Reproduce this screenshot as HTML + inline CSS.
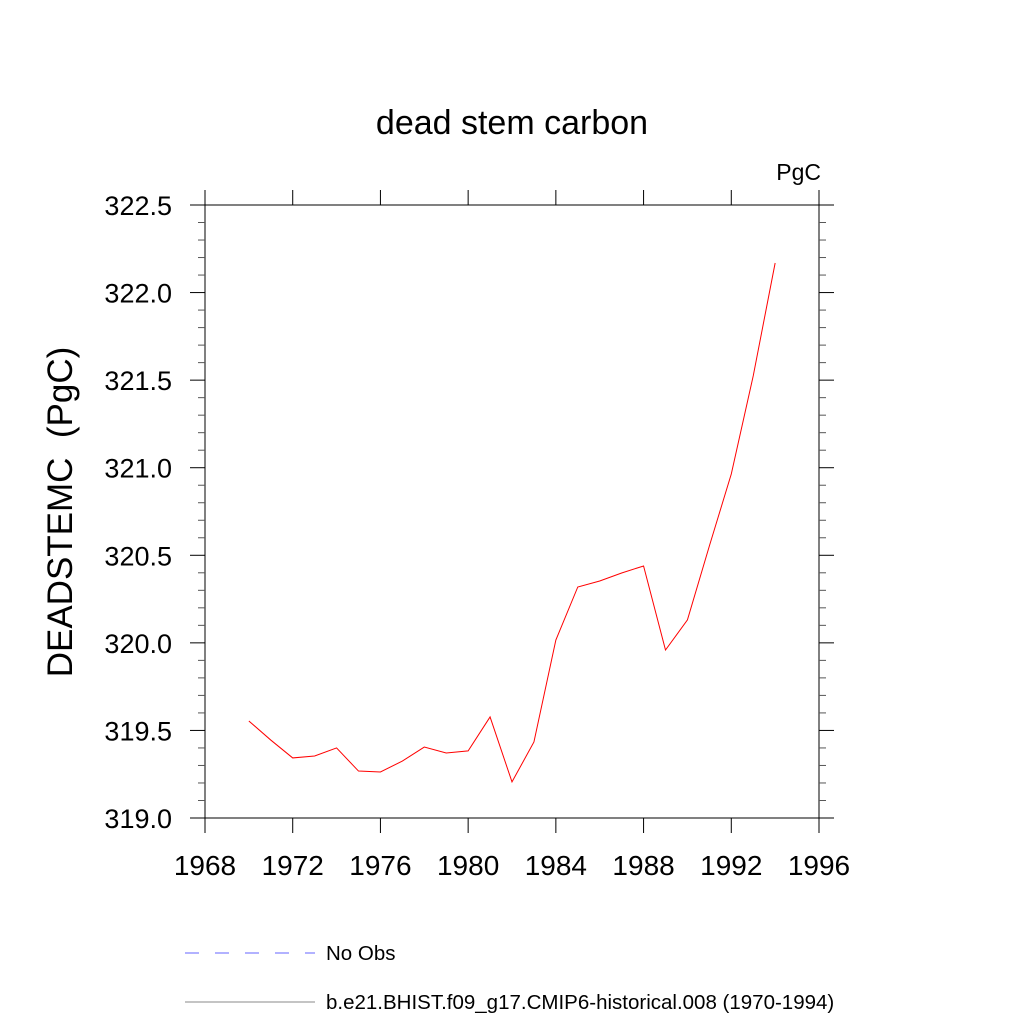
<!DOCTYPE html>
<html><head><meta charset="utf-8"><style>
body{margin:0;background:#fff}
svg text{font-family:"Liberation Sans",sans-serif}
</style></head><body>
<svg id="chart" width="1024" height="1024" xmlns="http://www.w3.org/2000/svg">
<text x="512" y="134" font-size="34" text-anchor="middle">dead stem carbon</text>
<text x="821" y="180" font-size="23" text-anchor="end">PgC</text>
<text transform="translate(72,512) rotate(-90)" font-size="35" text-anchor="middle" xml:space="preserve" style="white-space:pre">DEADSTEMC  (PgC)</text>
<g id="axes"></g>
<g id="series"></g>
<line x1="185" y1="953" x2="315" y2="953" stroke="#66f" stroke-width="1" stroke-dasharray="14,16"/>
<text x="326" y="960" font-size="20.5">No Obs</text>
<line x1="185" y1="1002" x2="315" y2="1002" stroke="#888" stroke-width="1"/>
<text x="326" y="1009" font-size="20.5">b.e21.BHIST.f09_g17.CMIP6-historical.008 (1970-1994)</text>
</svg>
<script>
const years=[1970,1971,1972,1973,1974,1975,1976,1977,1978,1979,1980,1981,1982,1983,1984,1985,1986,1987,1988,1989,1990,1991,1992,1993,1994];
const values=[319.554,319.445,319.343,319.354,319.40,319.268,319.263,319.325,319.405,319.371,319.383,319.577,319.206,319.434,320.016,320.319,320.353,320.399,320.439,319.959,320.131,320.553,320.964,321.524,322.169];
const xTicks=[1968,1972,1976,1980,1984,1988,1992,1996];
const yTicks=[319.0,319.5,320.0,320.5,321.0,321.5,322.0,322.5];
const X0=205,X1=819,Y0=818,Y1=205;
const xs=v=>205+(v-1968)*(819-205)/28;
const ys=v=>818-(v-319)*(818-205)/3.5;
const NS="http://www.w3.org/2000/svg";
const ax=document.getElementById('axes');
function mk(t,a,p){const e=document.createElementNS(NS,t);for(const k in a)e.setAttribute(k,a[k]);(p||ax).appendChild(e);return e;}
const fr=mk('rect',{x:X0,y:Y1,width:X1-X0,height:Y0-Y1,fill:'none',stroke:'#000','stroke-width':1});


xTicks.forEach(t=>{const x=xs(t);
 mk('line',{x1:x,y1:Y0,x2:x,y2:Y0+15,stroke:'#000'});mk('line',{x1:x,y1:Y1,x2:x,y2:Y1-15,stroke:'#000'});});
for(let i=0;i<=35;i++){const v=319+i*0.1;const y=ys(v);const major=i%5===0;const L=major?15:7;
 mk('line',{x1:X0,y1:y,x2:X0-L,y2:y,stroke:major?'#000':'#555'});mk('line',{x1:X1,y1:y,x2:X1+L,y2:y,stroke:major?'#000':'#555'});}
xTicks.forEach(t=>{const e=mk('text',{x:xs(t),y:875,'font-size':28,'text-anchor':'middle'});e.textContent=t;
 
 });
yTicks.forEach(t=>{const e=mk('text',{x:172,y:ys(t)+10,'font-size':27,'text-anchor':'end'});e.textContent=t.toFixed(1);
 
 });
const pl=mk('polyline',{points:years.map((y,i)=>xs(y)+','+ys(values[i])).join(' '),fill:'none',stroke:'#f00','stroke-width':1},document.getElementById('series'));


</script>
</body></html>
